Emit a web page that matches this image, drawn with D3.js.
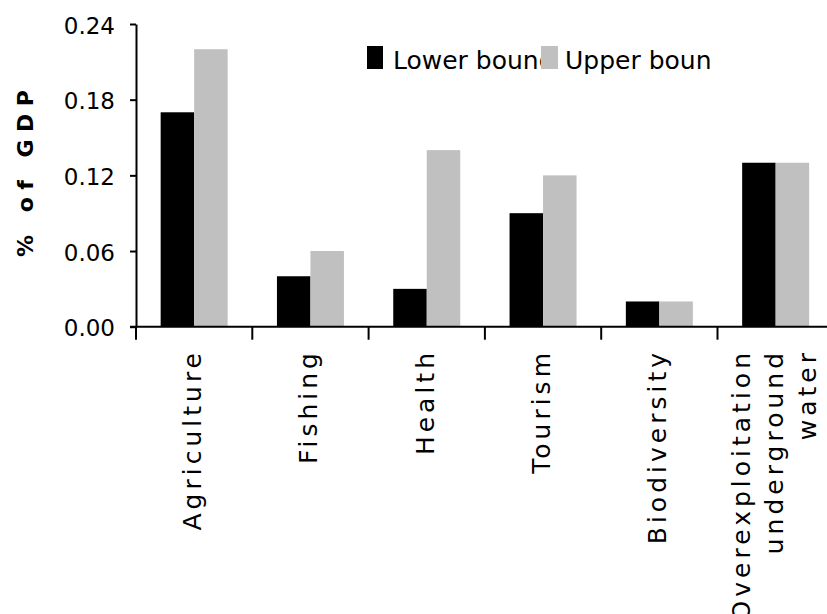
<!DOCTYPE html>
<html>
<head>
<meta charset="utf-8">
<script src="https://cdn.jsdelivr.net/npm/d3@7"></script>
<style>
  html, body { margin: 0; padding: 0; background: #fff; }
  svg { display: block; }
  text { font-family: "DejaVu Sans", Verdana, sans-serif; fill: #000; }
</style>
</head>
<body>
<script>
// ---- data ----
const categories = ["Agriculture", "Fishing", "Health", "Tourism", "Biodiversity", "Overexploitation\nunderground\nwater"];
const seriesNames = ["Lower bound", "Upper bound"];
const lowerBound = [0.17, 0.04, 0.03, 0.09, 0.02, 0.13];
const upperBound = [0.22, 0.06, 0.14, 0.12, 0.02, 0.13];
const yTicks = [0, 0.06, 0.12, 0.18, 0.24];
const yTitle = "% of GDP";
const seriesColors = ["#000000", "#c0c0c0"];

// ---- layout ----
const W = 827, H = 614;
const plotLeft = 136, plotTop = 24, plotBottom = 326.7;
const step = 116.3;

const svg = d3.select("body").append("svg").attr("width", W).attr("height", H);

const x = d3.scaleBand().domain(categories).range([plotLeft, plotLeft + step * categories.length]).paddingInner(0).paddingOuter(0);
const xs = d3.scaleBand().domain(seriesNames).range([0, x.bandwidth()]).paddingInner(0).paddingOuter(0.736);
const y = d3.scaleLinear().domain([0, 0.24]).range([plotBottom, plotTop]);

const series = [lowerBound, upperBound];

// bars
seriesNames.forEach((s, si) => {
  svg.append("g").selectAll("rect")
    .data(categories.map((c, i) => ({ c, v: series[si][i] })))
    .join("rect")
    .attr("x", d => x(d.c) + xs(s))
    .attr("width", xs.bandwidth())
    .attr("y", d => y(d.v))
    .attr("height", d => y(0) - y(d.v))
    .attr("fill", seriesColors[si]);
});

// y axis
const yAxis = d3.axisLeft(y).tickValues(yTicks).tickSize(6).tickSizeOuter(0).tickFormat(d3.format(".2f")).tickPadding(15);
const gy = svg.append("g").attr("transform", `translate(${plotLeft},0)`).call(yAxis);
gy.select(".domain").attr("stroke", "#000").attr("stroke-width", 2);
gy.selectAll(".tick line").attr("stroke", "#000").attr("stroke-width", 2);
gy.selectAll(".tick text").attr("font-size", 23).attr("font-family", "DejaVu Sans, Verdana, sans-serif").attr("dy", "0.4em").attr("fill", "#000");

// x axis line
svg.append("line")
  .attr("x1", plotLeft - 6).attr("x2", x.range()[1])
  .attr("y1", y(0)).attr("y2", y(0))
  .attr("stroke", "#000").attr("stroke-width", 2);

// category boundary ticks
const bounds = categories.map(c => x(c)).concat([x.range()[1]]);
svg.append("g").selectAll("line").data(bounds).join("line")
  .attr("x1", d => d).attr("x2", d => d)
  .attr("y1", y(0)).attr("y2", y(0) + 13)
  .attr("stroke", "#000").attr("stroke-width", 2);

// category labels (rotated)
const lineGap = 33;
categories.forEach(c => {
  const lines = c.split("\n");
  const cx = x(c) + x.bandwidth() / 2;
  const t = svg.append("text")
    .attr("transform", `translate(${cx},349) rotate(-90)`)
    .attr("text-anchor", "end")
    .attr("font-size", 25)
    .attr("letter-spacing", "4px");
  lines.forEach((ln, i) => {
    t.append("tspan")
      .attr("x", 0)
      .attr("y", 7 + (i - (lines.length - 1) / 2) * lineGap)
      .text(ln);
  });
});

// y title
svg.append("text")
  .attr("transform", `translate(33,173.5) rotate(-90)`)
  .attr("text-anchor", "middle")
  .attr("font-size", 22)
  .attr("font-weight", "bold")
  .attr("textLength", 167)
  .attr("lengthAdjust", "spacing")
  .text(yTitle);

// legend (entries clipped like the original)
const legendItems = [
  { name: seriesNames[0], color: seriesColors[0], bx: 367, bw: 16, tx: 393, clipEnd: 541 },
  { name: seriesNames[1], color: seriesColors[1], bx: 541, bw: 17, tx: 565, clipEnd: 711 }
];
const defs = svg.append("defs");
legendItems.forEach((it, i) => {
  defs.append("clipPath").attr("id", "lgclip" + i)
    .append("rect").attr("x", it.tx - 2).attr("y", 30).attr("width", it.clipEnd - it.tx + 2).attr("height", 50);
});
legendItems.forEach((it, i) => {
  svg.append("text")
    .attr("x", it.tx).attr("y", 69)
    .attr("font-size", 25)
    .attr("clip-path", `url(#lgclip${i})`)
    .text(it.name);
});
legendItems.forEach(it => {
  svg.append("rect").attr("x", it.bx).attr("y", 46).attr("width", it.bw).attr("height", 23).attr("fill", it.color);
});
</script>
</body>
</html>
